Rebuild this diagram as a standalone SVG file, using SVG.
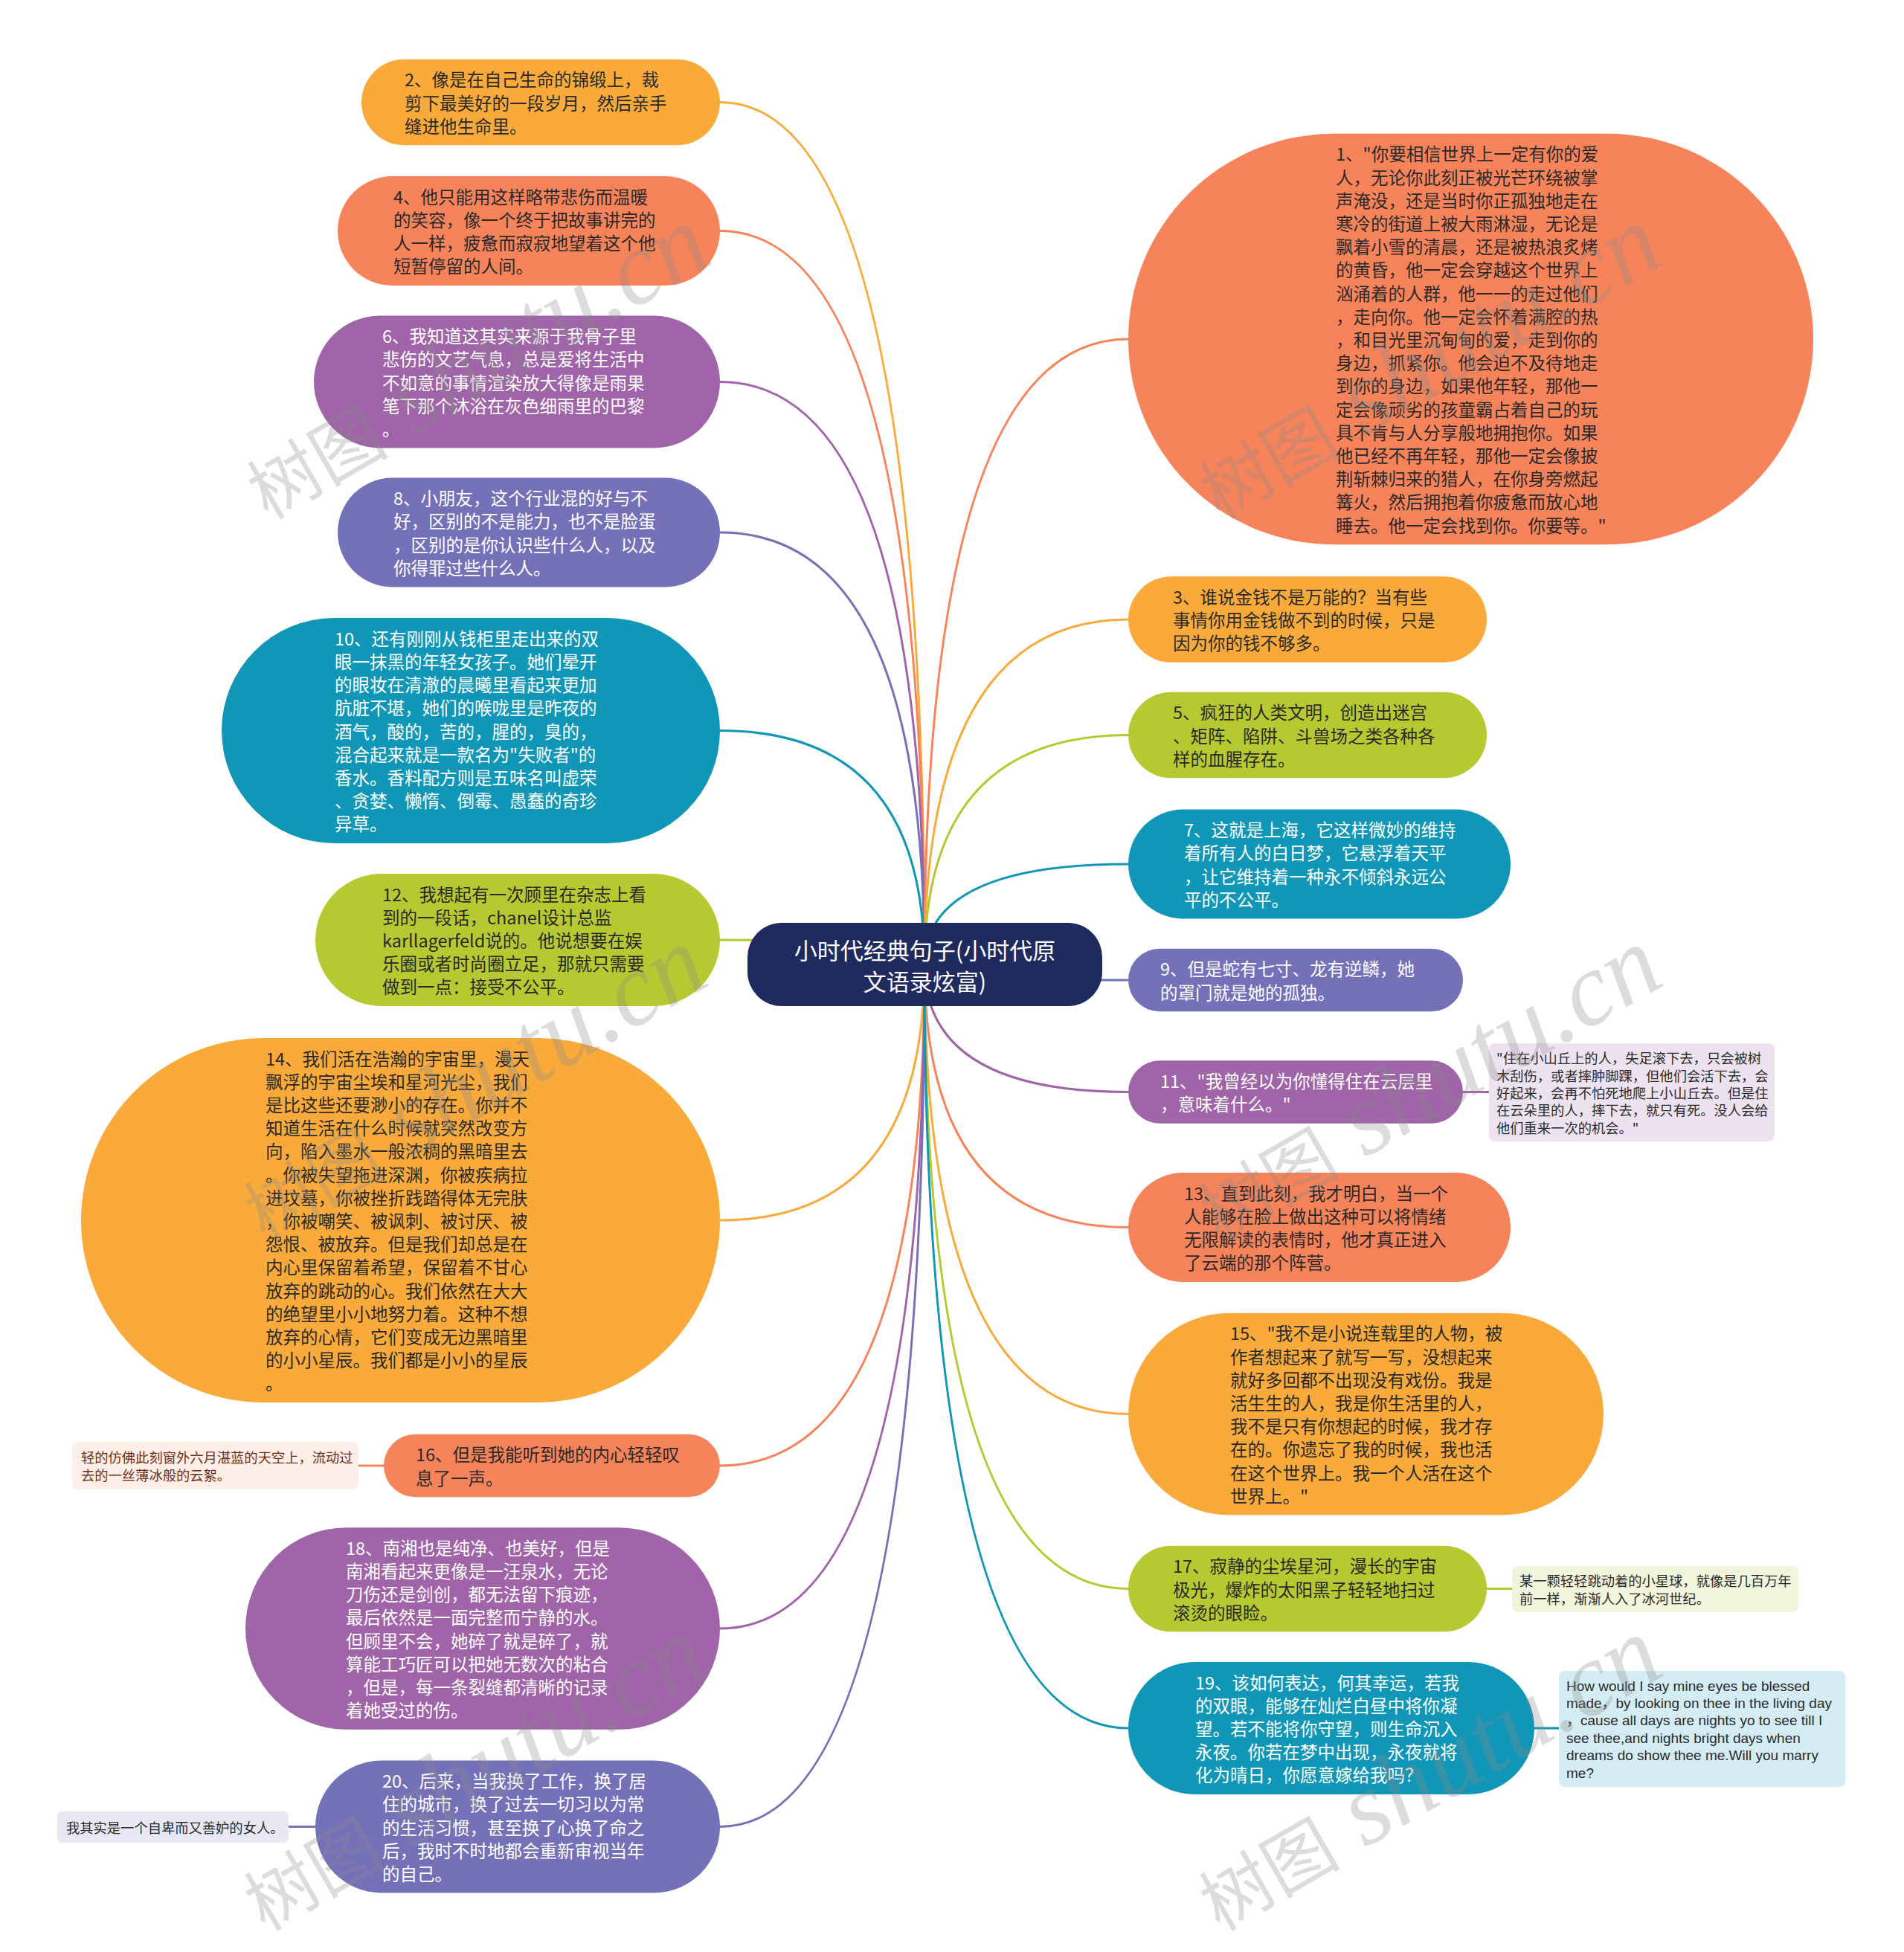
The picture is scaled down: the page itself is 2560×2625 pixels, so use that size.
<svg xmlns="http://www.w3.org/2000/svg" width="2560" height="2625" viewBox="0 0 2560 2625">
<style>
.t{font-family:"Noto Sans CJK SC","Liberation Sans",sans-serif;font-size:23.5px;dominant-baseline:central}
.dk{fill:#2a2a2a}
.wt{fill:#ffffff}
.nt{font-family:"Noto Sans CJK SC","Liberation Sans",sans-serif;font-size:18.3px;fill:#2a2a2a;dominant-baseline:central}
.en{font-family:"Liberation Sans","Noto Sans CJK SC",sans-serif;font-size:19px;fill:#2a2a2a;dominant-baseline:central}
.ctr{font-family:"Noto Sans CJK SC","Liberation Sans",sans-serif;font-size:31px;fill:#ffffff;text-anchor:middle;dominant-baseline:central}
.c{fill:none;stroke-width:3}
.or{fill:#F9AA3A}.sa{fill:#F7835A}.pu{fill:#A064A8}.in{fill:#7471B9}.te{fill:#1096B6}.yg{fill:#B6C931}
.sor{stroke:#F9AA3A}.ssa{stroke:#F7835A}.spu{stroke:#A064A8}.sin{stroke:#7471B9}.ste{stroke:#1096B6}.syg{stroke:#B6C931}
.wm{fill:#8a8a8a;fill-opacity:0.3;font-family:"Liberation Serif","Noto Sans CJK SC",serif;font-style:italic}
</style>
<rect width="2560" height="2625" fill="#ffffff"/>
<g id="connectors">
<path class="c sor" d="M1243 1297 Q1243 137.5 968 137.5"/>
<path class="c ssa" d="M1243 1297 Q1243 310.5 968 310.5"/>
<path class="c spu" d="M1243 1297 Q1243 513.5 968 513.5"/>
<path class="c sin" d="M1243 1297 Q1243 716 968 716"/>
<path class="c ste" d="M1243 1297 Q1243 982.5 968 982.5"/>
<path class="c syg" d="M1243 1297 Q1243 1264 968 1264"/>
<path class="c sor" d="M1243 1297 Q1243 1641 968 1641"/>
<path class="c ssa" d="M1243 1297 Q1243 1971 968 1971"/>
<path class="c spu" d="M1243 1297 Q1243 2190 968 2190"/>
<path class="c sin" d="M1243 1297 Q1243 2456.5 968 2456.5"/>
<path class="c ssa" d="M1243 1297 Q1243 456 1517 456"/>
<path class="c sor" d="M1243 1297 Q1243 833 1517 833"/>
<path class="c syg" d="M1243 1297 Q1243 988.5 1517 988.5"/>
<path class="c ste" d="M1243 1297 Q1243 1162 1517 1162"/>
<path class="c sin" d="M1243 1297 Q1243 1318 1517 1318"/>
<path class="c spu" d="M1243 1297 Q1243 1468.5 1517 1468.5"/>
<path class="c ssa" d="M1243 1297 Q1243 1650.5 1517 1650.5"/>
<path class="c sor" d="M1243 1297 Q1243 1901.5 1517 1901.5"/>
<path class="c syg" d="M1243 1297 Q1243 2136.5 1517 2136.5"/>
<path class="c ste" d="M1243 1297 Q1243 2324 1517 2324"/>
<path class="c ssa" d="M482 1971 H516"/>
<path class="c sin" d="M388 2456.5 H424"/>
<path class="c spu" d="M1967 1468.5 H2002"/>
<path class="c syg" d="M1999 2136.5 H2033"/>
<path class="c ste" d="M2063 2324 H2096"/>
</g>

<g id="node-center">
<rect x="1005" y="1241" width="477" height="112" rx="46" fill="#1F2A5F"/>
<text class="ctr"><tspan x="1243.5" y="1276">小时代经典句子(小时代原</tspan><tspan x="1243.5" y="1318">文语录炫富)</tspan></text>
</g>

<g id="node-2">
<rect class="or" x="486" y="79.7" width="482" height="115.6" rx="57.8"/>
<text class="t dk"><tspan x="544" y="106.3">2、像是在自己生命的锦缎上，裁</tspan><tspan x="544" y="137.5">剪下最美好的一段岁月，然后亲手</tspan><tspan x="544" y="168.7">缝进他生命里。</tspan></text>
</g>

<g id="node-4">
<rect class="sa" x="454" y="237.1" width="514" height="146.8" rx="73.4"/>
<text class="t dk"><tspan x="529" y="263.7">4、他只能用这样略带悲伤而温暖</tspan><tspan x="529" y="294.9">的笑容，像一个终于把故事讲完的</tspan><tspan x="529" y="326.1">人一样，疲惫而寂寂地望着这个他</tspan><tspan x="529" y="357.3">短暂停留的人间。</tspan></text>
</g>

<g id="node-6">
<rect class="pu" x="422" y="424.5" width="546" height="178" rx="89"/>
<text class="t wt"><tspan x="514" y="451.1">6、我知道这其实来源于我骨子里</tspan><tspan x="514" y="482.3">悲伤的文艺气息，总是爱将生活中</tspan><tspan x="514" y="513.5">不如意的事情渲染放大得像是雨果</tspan><tspan x="514" y="544.7">笔下那个沐浴在灰色细雨里的巴黎</tspan><tspan x="514" y="575.9">。</tspan></text>
</g>

<g id="node-8">
<rect class="in" x="454" y="642.6" width="514" height="146.8" rx="73.4"/>
<text class="t wt"><tspan x="529" y="669.2">8、小朋友，这个行业混的好与不</tspan><tspan x="529" y="700.4">好，区别的不是能力，也不是脸蛋</tspan><tspan x="529" y="731.6">，区别的是你认识些什么人，以及</tspan><tspan x="529" y="762.8">你得罪过些什么人。</tspan></text>
</g>

<g id="node-10">
<rect class="te" x="298" y="831.1" width="670" height="302.8" rx="151.4"/>
<text class="t wt"><tspan x="450" y="857.7">10、还有刚刚从钱柜里走出来的双</tspan><tspan x="450" y="888.9">眼一抹黑的年轻女孩子。她们晕开</tspan><tspan x="450" y="920.1">的眼妆在清澈的晨曦里看起来更加</tspan><tspan x="450" y="951.3">肮脏不堪，她们的喉咙里是昨夜的</tspan><tspan x="450" y="982.5">酒气，酸的，苦的，腥的，臭的，</tspan><tspan x="450" y="1013.7">混合起来就是一款名为"失败者"的</tspan><tspan x="450" y="1044.9">香水。香料配方则是五味名叫虚荣</tspan><tspan x="450" y="1076.1">、贪婪、懒惰、倒霉、愚蠢的奇珍</tspan><tspan x="450" y="1107.3">异草。</tspan></text>
</g>

<g id="node-12">
<rect class="yg" x="424" y="1175" width="544" height="178" rx="89"/>
<text class="t dk"><tspan x="514" y="1201.6">12、我想起有一次顾里在杂志上看</tspan><tspan x="514" y="1232.8">到的一段话，chanel设计总监</tspan><tspan x="514" y="1264">karllagerfeld说的。他说想要在娱</tspan><tspan x="514" y="1295.2">乐圈或者时尚圈立足，那就只需要</tspan><tspan x="514" y="1326.4">做到一点：接受不公平。</tspan></text>
</g>

<g id="node-14">
<rect class="or" x="109" y="1396" width="859" height="490" rx="245"/>
<text class="t dk"><tspan x="357" y="1422.6">14、我们活在浩瀚的宇宙里，漫天</tspan><tspan x="357" y="1453.8">飘浮的宇宙尘埃和星河光尘，我们</tspan><tspan x="357" y="1485">是比这些还要渺小的存在。你并不</tspan><tspan x="357" y="1516.2">知道生活在什么时候就突然改变方</tspan><tspan x="357" y="1547.4">向，陷入墨水一般浓稠的黑暗里去</tspan><tspan x="357" y="1578.6">。你被失望拖进深渊，你被疾病拉</tspan><tspan x="357" y="1609.8">进坟墓，你被挫折践踏得体无完肤</tspan><tspan x="357" y="1641">，你被嘲笑、被讽刺、被讨厌、被</tspan><tspan x="357" y="1672.2">怨恨、被放弃。但是我们却总是在</tspan><tspan x="357" y="1703.4">内心里保留着希望，保留着不甘心</tspan><tspan x="357" y="1734.6">放弃的跳动的心。我们依然在大大</tspan><tspan x="357" y="1765.8">的绝望里小小地努力着。这种不想</tspan><tspan x="357" y="1797">放弃的心情，它们变成无边黑暗里</tspan><tspan x="357" y="1828.2">的小小星辰。我们都是小小的星辰</tspan><tspan x="357" y="1859.4">。</tspan></text>
</g>

<g id="node-16">
<rect class="sa" x="516" y="1928.8" width="452" height="84.4" rx="42.2"/>
<text class="t dk"><tspan x="559" y="1955.4">16、但是我能听到她的内心轻轻叹</tspan><tspan x="559" y="1986.6">息了一声。</tspan></text>
</g>

<g id="note-16">
<rect x="97" y="1939" width="385" height="64" rx="8" fill="#FDEEE8"/>
<text class="nt" style="fill:#6E2E16"><tspan x="109" y="1959.3">轻的仿佛此刻窗外六月湛蓝的天空上，流动过</tspan><tspan x="109" y="1982.7">去的一丝薄冰般的云絮。</tspan></text>
</g>

<g id="node-18">
<rect class="pu" x="330" y="2054.2" width="638" height="271.6" rx="135.8"/>
<text class="t wt"><tspan x="465" y="2080.8">18、南湘也是纯净、也美好，但是</tspan><tspan x="465" y="2112">南湘看起来更像是一汪泉水，无论</tspan><tspan x="465" y="2143.2">刀伤还是剑创，都无法留下痕迹，</tspan><tspan x="465" y="2174.4">最后依然是一面完整而宁静的水。</tspan><tspan x="465" y="2205.6">但顾里不会，她碎了就是碎了，就</tspan><tspan x="465" y="2236.8">算能工巧匠可以把她无数次的粘合</tspan><tspan x="465" y="2268">，但是，每一条裂缝都清晰的记录</tspan><tspan x="465" y="2299.2">着她受过的伤。</tspan></text>
</g>

<g id="node-20">
<rect class="in" x="424" y="2367.5" width="544" height="178" rx="89"/>
<text class="t wt"><tspan x="514" y="2394.1">20、后来，当我换了工作，换了居</tspan><tspan x="514" y="2425.3">住的城市，换了过去一切习以为常</tspan><tspan x="514" y="2456.5">的生活习惯，甚至换了心换了命之</tspan><tspan x="514" y="2487.7">后，我时不时地都会重新审视当年</tspan><tspan x="514" y="2518.9">的自己。</tspan></text>
</g>

<g id="note-20">
<rect x="77" y="2436" width="311" height="42" rx="7" fill="#E8E8F4"/>
<text class="nt"><tspan x="89" y="2457">我其实是一个自卑而又善妒的女人。</tspan></text>
</g>

<g id="node-1">
<rect class="sa" x="1517" y="179.8" width="921" height="552.4" rx="276.2"/>
<text class="t dk"><tspan x="1796" y="206.4">1、"你要相信世界上一定有你的爱</tspan><tspan x="1796" y="237.6">人，无论你此刻正被光芒环绕被掌</tspan><tspan x="1796" y="268.8">声淹没，还是当时你正孤独地走在</tspan><tspan x="1796" y="300">寒冷的街道上被大雨淋湿，无论是</tspan><tspan x="1796" y="331.2">飘着小雪的清晨，还是被热浪炙烤</tspan><tspan x="1796" y="362.4">的黄昏，他一定会穿越这个世界上</tspan><tspan x="1796" y="393.6">汹涌着的人群，他一一的走过他们</tspan><tspan x="1796" y="424.8">，走向你。他一定会怀着满腔的热</tspan><tspan x="1796" y="456">，和目光里沉甸甸的爱，走到你的</tspan><tspan x="1796" y="487.2">身边，抓紧你。他会迫不及待地走</tspan><tspan x="1796" y="518.4">到你的身边，如果他年轻，那他一</tspan><tspan x="1796" y="549.6">定会像顽劣的孩童霸占着自己的玩</tspan><tspan x="1796" y="580.8">具不肯与人分享般地拥抱你。如果</tspan><tspan x="1796" y="612">他已经不再年轻，那他一定会像披</tspan><tspan x="1796" y="643.2">荆斩棘归来的猎人，在你身旁燃起</tspan><tspan x="1796" y="674.4">篝火，然后拥抱着你疲惫而放心地</tspan><tspan x="1796" y="705.6">睡去。他一定会找到你。你要等。"</tspan></text>
</g>

<g id="node-3">
<rect class="or" x="1517" y="775.2" width="482" height="115.6" rx="57.8"/>
<text class="t dk"><tspan x="1577" y="801.8">3、谁说金钱不是万能的？当有些</tspan><tspan x="1577" y="833">事情你用金钱做不到的时候，只是</tspan><tspan x="1577" y="864.2">因为你的钱不够多。</tspan></text>
</g>

<g id="node-5">
<rect class="yg" x="1517" y="930.7" width="482" height="115.6" rx="57.8"/>
<text class="t dk"><tspan x="1577" y="957.3">5、疯狂的人类文明，创造出迷宫</tspan><tspan x="1577" y="988.5">、矩阵、陷阱、斗兽场之类各种各</tspan><tspan x="1577" y="1019.7">样的血腥存在。</tspan></text>
</g>

<g id="node-7">
<rect class="te" x="1517" y="1088.6" width="514" height="146.8" rx="73.4"/>
<text class="t wt"><tspan x="1592" y="1115.2">7、这就是上海，它这样微妙的维持</tspan><tspan x="1592" y="1146.4">着所有人的白日梦，它悬浮着天平</tspan><tspan x="1592" y="1177.6">，让它维持着一种永不倾斜永远公</tspan><tspan x="1592" y="1208.8">平的不公平。</tspan></text>
</g>

<g id="node-9">
<rect class="in" x="1517" y="1275.8" width="450" height="84.4" rx="42.2"/>
<text class="t wt"><tspan x="1560" y="1302.4">9、但是蛇有七寸、龙有逆鳞，她</tspan><tspan x="1560" y="1333.6">的罩门就是她的孤独。</tspan></text>
</g>

<g id="node-11">
<rect class="pu" x="1517" y="1426.3" width="450" height="84.4" rx="42.2"/>
<text class="t wt"><tspan x="1560" y="1452.9">11、"我曾经以为你懂得住在云层里</tspan><tspan x="1560" y="1484.1">，意味着什么。"</tspan></text>
</g>

<g id="note-11">
<rect x="2002" y="1403" width="384" height="132" rx="8" fill="#EDE3F0"/>
<text class="nt"><tspan x="2012" y="1422.2">"住在小山丘上的人，失足滚下去，只会被树</tspan><tspan x="2012" y="1445.6">木刮伤，或者摔肿脚踝，但他们会活下去，会</tspan><tspan x="2012" y="1469">好起来，会再不怕死地爬上小山丘去。但是住</tspan><tspan x="2012" y="1492.4">在云朵里的人，摔下去，就只有死。没人会给</tspan><tspan x="2012" y="1515.8">他们重来一次的机会。"</tspan></text>
</g>

<g id="node-13">
<rect class="sa" x="1517" y="1577.1" width="514" height="146.8" rx="73.4"/>
<text class="t dk"><tspan x="1592" y="1603.7">13、直到此刻，我才明白，当一个</tspan><tspan x="1592" y="1634.9">人能够在脸上做出这种可以将情绪</tspan><tspan x="1592" y="1666.1">无限解读的表情时，他才真正进入</tspan><tspan x="1592" y="1697.3">了云端的那个阵营。</tspan></text>
</g>

<g id="node-15">
<rect class="or" x="1517" y="1765.7" width="639" height="271.6" rx="135.8"/>
<text class="t dk"><tspan x="1654" y="1792.3">15、"我不是小说连载里的人物，被</tspan><tspan x="1654" y="1823.5">作者想起来了就写一写，没想起来</tspan><tspan x="1654" y="1854.7">就好多回都不出现没有戏份。我是</tspan><tspan x="1654" y="1885.9">活生生的人，我是你生活里的人，</tspan><tspan x="1654" y="1917.1">我不是只有你想起的时候，我才存</tspan><tspan x="1654" y="1948.3">在的。你遗忘了我的时候，我也活</tspan><tspan x="1654" y="1979.5">在这个世界上。我一个人活在这个</tspan><tspan x="1654" y="2010.7">世界上。"</tspan></text>
</g>

<g id="node-17">
<rect class="yg" x="1517" y="2078.7" width="482" height="115.6" rx="57.8"/>
<text class="t dk"><tspan x="1577" y="2105.3">17、寂静的尘埃星河，漫长的宇宙</tspan><tspan x="1577" y="2136.5">极光，爆炸的太阳黑子轻轻地扫过</tspan><tspan x="1577" y="2167.7">滚烫的眼睑。</tspan></text>
</g>

<g id="note-17">
<rect x="2033" y="2106" width="385" height="62" rx="8" fill="#F1F5DC"/>
<text class="nt"><tspan x="2043" y="2125.3">某一颗轻轻跳动着的小星球，就像是几百万年</tspan><tspan x="2043" y="2148.7">前一样，渐渐人入了冰河世纪。</tspan></text>
</g>

<g id="node-19">
<rect class="te" x="1517" y="2235" width="546" height="178" rx="89"/>
<text class="t wt"><tspan x="1607" y="2261.6">19、该如何表达，何其幸运，若我</tspan><tspan x="1607" y="2292.8">的双眼，能够在灿烂白昼中将你凝</tspan><tspan x="1607" y="2324">望。若不能将你守望，则生命沉入</tspan><tspan x="1607" y="2355.2">永夜。你若在梦中出现，永夜就将</tspan><tspan x="1607" y="2386.4">化为晴日，你愿意嫁给我吗？</tspan></text>
</g>

<g id="note-19">
<rect x="2096" y="2247" width="385" height="156" rx="8" fill="#D4ECF4"/>
<text class="en"><tspan x="2106" y="2266.5">How would I say mine eyes be blessed</tspan><tspan x="2106" y="2289.9">made，by looking on thee in the living day</tspan><tspan x="2106" y="2313.3">，cause all days are nights yo to see till I</tspan><tspan x="2106" y="2336.7">see thee,and nights bright days when</tspan><tspan x="2106" y="2360.1">dreams do show thee me.Will you marry</tspan><tspan x="2106" y="2383.5">me?</tspan></text>
</g>

<g id="watermark" class="wm">
<text transform="translate(360 700) rotate(-30)"><tspan font-size="95" font-style="normal">树图</tspan><tspan font-size="140"> shutu.cn</tspan></text>
<text transform="translate(1640 700) rotate(-30)"><tspan font-size="95" font-style="normal">树图</tspan><tspan font-size="140"> shutu.cn</tspan></text>
<text transform="translate(356 1670) rotate(-30)"><tspan font-size="95" font-style="normal">树图</tspan><tspan font-size="140"> shutu.cn</tspan></text>
<text transform="translate(1640 1670) rotate(-30)"><tspan font-size="95" font-style="normal">树图</tspan><tspan font-size="140"> shutu.cn</tspan></text>
<text transform="translate(356 2598) rotate(-30)"><tspan font-size="95" font-style="normal">树图</tspan><tspan font-size="140"> shutu.cn</tspan></text>
<text transform="translate(1640 2598) rotate(-30)"><tspan font-size="95" font-style="normal">树图</tspan><tspan font-size="140"> shutu.cn</tspan></text>
</g>
</svg>
